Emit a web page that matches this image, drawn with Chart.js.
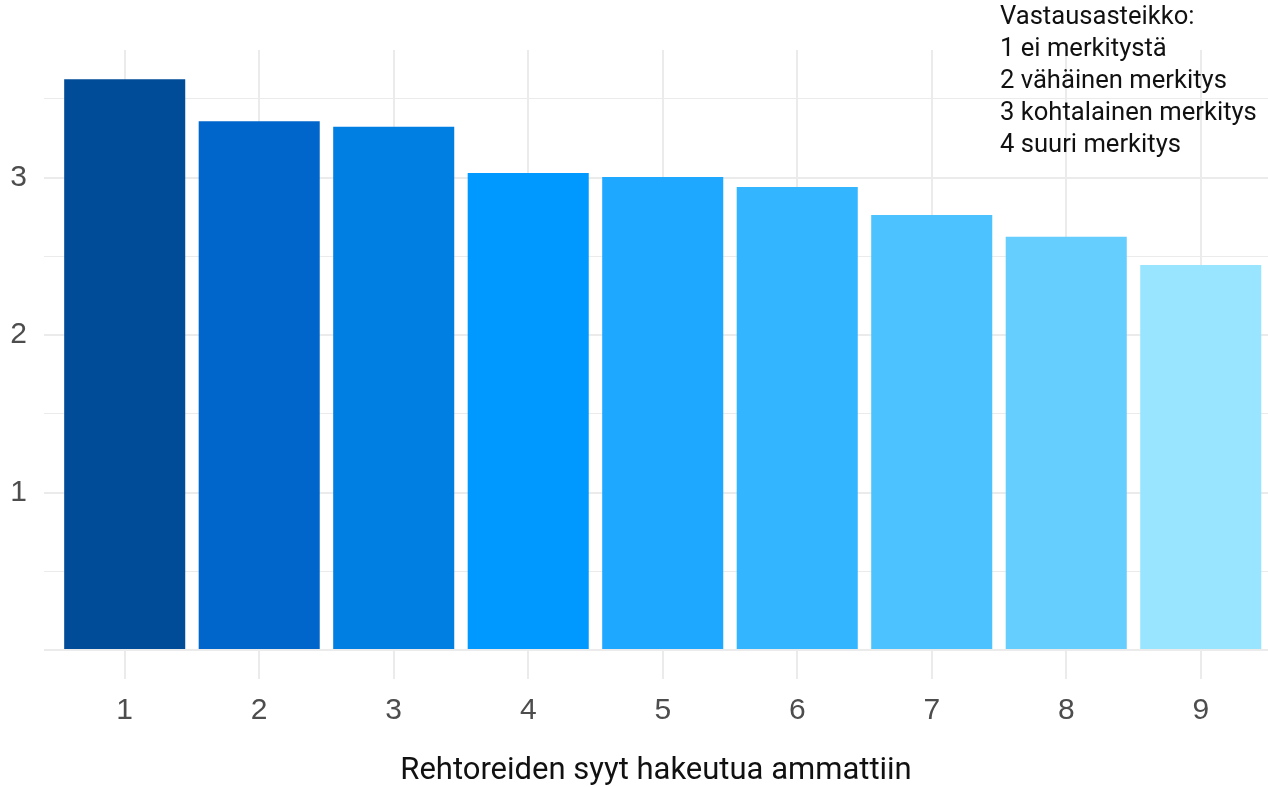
<!DOCTYPE html>
<html>
<head>
<meta charset="utf-8">
<script src="https://cdn.jsdelivr.net/npm/chart.js@4/dist/chart.umd.min.js"></script>
<style>
  html, body { margin: 0; padding: 0; background: #ffffff; overflow: hidden; }
  #wrap { width: 1268px; height: 787px; position: relative; }
</style>
</head>
<body>
<div id="wrap"><canvas id="chart" width="1268" height="787"></canvas></div>
<script>
// Reasons (numbered 1–9) and their mean importance on a 1–4 scale
const categories = [1, 2, 3, 4, 5, 6, 7, 8, 9];
const meanScores = [3.625, 3.357, 3.323, 3.029, 3.003, 2.940, 2.762, 2.624, 2.444];
const barColors = ['#004c99', '#0066cc', '#007fe3', '#0099ff', '#1ea8ff', '#33b5ff', '#4cc3ff', '#66cdff', '#99e5ff'];

// Axis ticks
const yGridValues = [0, 0.5, 1, 1.5, 2, 2.5, 3, 3.5];
const yLabelValues = [1, 2, 3];
const xTickValues = [1, 2, 3, 4, 5, 6, 7, 8, 9];

// Texts
const xTitle = 'Rehtoreiden syyt hakeutua ammattiin';
const scaleNotes = ['Vastausasteikko:', '1 ei merkitystä', '2 vähäinen merkitys', '3 kohtalainen merkitys', '4 suuri merkitys'];

const GRID = '#ebebeb';
const AXIS_TEXT = '#4d4d4d';

// Response-scale note in the upper right corner
const notePlugin = {
  id: 'scaleNote',
  afterDraw(chart) {
    const ctx = chart.ctx;
    ctx.save();
    ctx.font = '25.6px Roboto';
    ctx.fillStyle = '#111111';
    ctx.textAlign = 'left';
    ctx.textBaseline = 'alphabetic';
    scaleNotes.forEach((line, i) => ctx.fillText(line, 1000, 24 + i * 32));
    ctx.restore();
  }
};

new Chart(document.getElementById('chart'), {
  type: 'bar',
  data: {
    datasets: [{
      data: categories.map((c, i) => ({ x: c, y: meanScores[i] })),
      backgroundColor: barColors,
      borderWidth: 0,
      barPercentage: 0.9,
      categoryPercentage: 1.0
    }]
  },
  options: {
    responsive: false,
    animation: false,
    devicePixelRatio: 1,
    layout: { padding: { top: 50, left: 0, right: 0, bottom: 0 } },
    plugins: { legend: { display: false }, tooltip: { enabled: false } },
    scales: {
      x: {
        type: 'linear',
        offset: false,
        min: 0.4,
        max: 9.5,
        afterBuildTicks(scale) { scale.ticks = xTickValues.map(v => ({ value: v })); },
        afterFit(scale) { scale.height = 108.4; },
        border: { display: false },
        grid: { color: GRID, lineWidth: 2, drawTicks: false, offset: false },
        ticks: {
          color: AXIS_TEXT,
          font: { family: 'Liberation Sans', size: 30 },
          padding: 14,
          maxRotation: 0,
          callback: v => String(v)
        },
        title: {
          display: true,
          text: xTitle,
          color: '#111111',
          font: { family: 'Roboto', size: 31, lineHeight: 1 },
          padding: { top: 0, bottom: 0 }
        }
      },
      y: {
        min: -0.1815,
        max: 3.81,
        afterBuildTicks(scale) { scale.ticks = yGridValues.map(v => ({ value: v })); },
        afterFit(scale) { scale.width = 44; },
        border: { display: false },
        grid: {
          color: GRID,
          drawTicks: false,
          lineWidth: c => (Number.isInteger(c.tick.value) ? 2 : 1)
        },
        ticks: {
          color: AXIS_TEXT,
          font: { family: 'Liberation Sans', size: 30 },
          padding: 17,
          callback: v => (yLabelValues.includes(v) ? String(v) : '')
        }
      }
    }
  },
  plugins: [notePlugin]
});
</script>
</body>
</html>
